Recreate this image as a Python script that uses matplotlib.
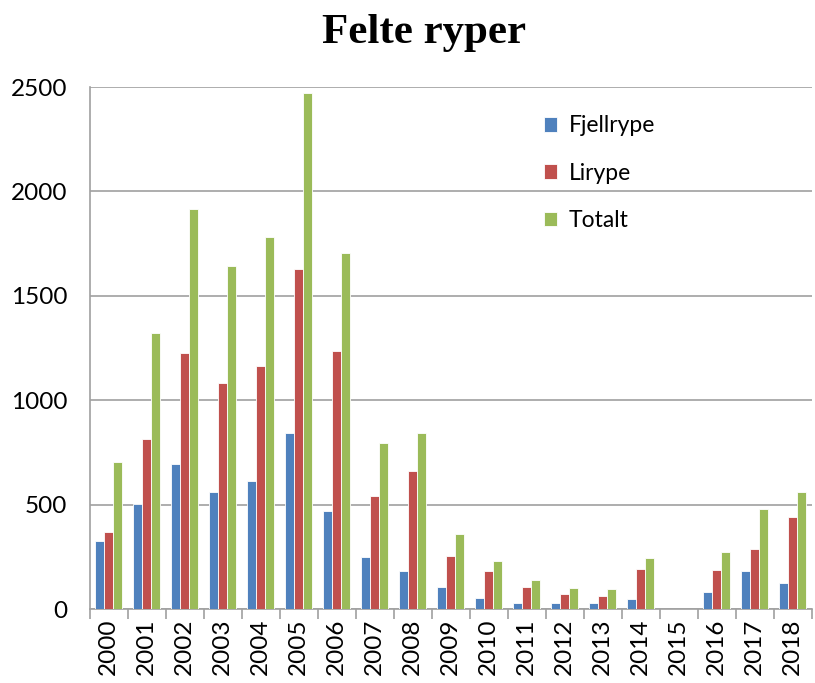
import numpy as np
import matplotlib
matplotlib.use("Agg")
import matplotlib.pyplot as plt

# Data
aar = ['2000', '2001', '2002', '2003', '2004', '2005', '2006', '2007', '2008', '2009',
       '2010', '2011', '2012', '2013', '2014', '2015', '2016', '2017', '2018']
fjellrype = [326, 505, 696, 561, 614, 842, 468, 247, 180, 107,
             53, 27, 27, 27, 46, 0, 83, 180, 126]
lirype = [369, 812, 1224, 1082, 1162, 1628, 1237, 543, 660, 256,
          180, 107, 70, 64, 193, 0, 187, 286, 439]
totalt = [702, 1321, 1918, 1641, 1781, 2470, 1703, 793, 845, 359,
          230, 137, 101, 94, 243, 0, 273, 478, 562]

farger = ['#4F81BD', '#C0504D', '#9BBB59']
navn = ['Fjellrype', 'Lirype', 'Totalt']

plt.rcParams['font.family'] = ['Lato', 'DejaVu Sans']

fig = plt.figure(figsize=(8.15, 6.83), dpi=100)
ax = fig.add_axes([0.110, 0.1083, 0.886, 0.7643])

x = np.arange(len(aar))
b = 0.235
for i, (serie, farge, n) in enumerate(zip([fjellrype, lirype, totalt], farger, navn)):
    ax.bar(x + (i - 1) * b, serie, width=b, color=farge, label=n,
           edgecolor='white', linewidth=0.6, zorder=3)

ax.set_xlim(-0.5, len(aar) - 0.5)
ax.set_ylim(0, 2500)
ax.set_yticks(range(0, 2501, 500))
ax.yaxis.grid(True, color='#A0A0A0', linewidth=1.2, zorder=0)
ax.set_axisbelow(True)

for s in ['top', 'right']:
    ax.spines[s].set_visible(False)
ax.spines['left'].set_color('#A0A0A0')
ax.spines['bottom'].set_color('#A0A0A0')
ax.spines['left'].set_linewidth(1.2)
ax.spines['bottom'].set_linewidth(1.2)

ax.set_xticks(x)
ax.set_xticklabels(aar, rotation=90, fontsize=17.5)
ax.tick_params(axis='x', length=0, pad=7)
ax.set_xticks(np.arange(-0.5, len(aar), 1), minor=True)
ax.tick_params(axis='x', which='minor', length=7, color='#A0A0A0', width=1.2)
ax.tick_params(axis='y', length=0, labelsize=17.5, pad=16)

ax.legend(loc='upper left', bbox_to_anchor=(0.6, 0.985), frameon=False,
          fontsize=16.5, labelspacing=1.15, handlelength=0.6, handleheight=0.6,
          handletextpad=0.5)

fig.text(0.52, 0.952, 'Felte ryper', ha='center', va='center',
         fontsize=31, fontweight='bold', family='Liberation Serif')

fig.savefig('out.png', dpi=100)
